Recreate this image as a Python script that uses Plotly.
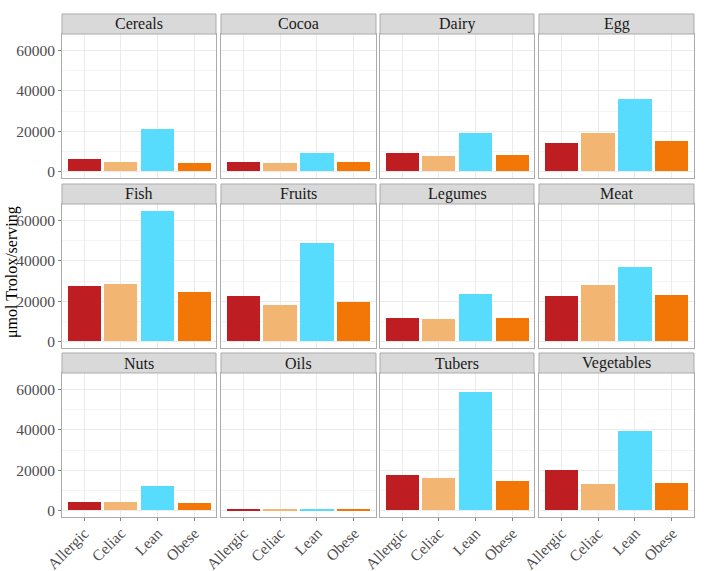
import plotly.graph_objects as go

groups = ["Allergic", "Celiac", "Lean", "Obese"]
foods = ["Cereals", "Cocoa", "Dairy", "Egg",
         "Fish", "Fruits", "Legumes", "Meat",
         "Nuts", "Oils", "Tubers", "Vegetables"]
values = {
    "Cereals":    [6300, 4800, 21300, 4300],
    "Cocoa":      [4600, 4000, 9400, 4600],
    "Dairy":      [9400, 7600, 19300, 8100],
    "Egg":        [14000, 19300, 36000, 14900],
    "Fish":       [27400, 28500, 65000, 24600],
    "Fruits":     [22600, 18200, 48800, 19500],
    "Legumes":    [11800, 11000, 23400, 11800],
    "Meat":       [22600, 28000, 37000, 23100],
    "Nuts":       [4000, 4100, 11900, 3500],
    "Oils":       [800, 450, 700, 550],
    "Tubers":     [17700, 16200, 58700, 14700],
    "Vegetables": [20200, 13000, 39700, 13500],
}
colors = ["#BE1E22", "#F2B572", "#58DCFE", "#F37707"]
y_ticks = [0, 20000, 40000, 60000]
y_ticktext = ["0", "20000", "40000", "60000"]
y_title = "μmol Trolox/serving"

W, H = 708, 571
col_px = [(62, 216), (221, 376), (380, 534), (539, 694)]
row_px = [(34, 178), (204, 348), (373, 517)]
strip_h = 20

FONT = "Liberation Serif, Times New Roman, serif"
fig = go.Figure()
ymax = max(max(v) for v in values.values())
yrange = [-0.05 * ymax, 1.05 * ymax]

shapes = []
annotations = []
for i, food in enumerate(foods):
    r, c = divmod(i, 4)
    n = i + 1
    xa = "x" if n == 1 else f"x{n}"
    ya = "y" if n == 1 else f"y{n}"
    fig.add_trace(go.Bar(x=groups, y=values[food], marker=dict(color=colors, line=dict(width=0)),
                         width=0.9, xaxis=xa, yaxis=ya, showlegend=False, hoverinfo="x+y"))
    x0, x1 = col_px[c]
    y0, y1 = row_px[r]
    xdom = [x0 / W, x1 / W]
    ydom = [1 - y1 / H, 1 - y0 / H]
    xkey = "xaxis" if n == 1 else f"xaxis{n}"
    ykey = "yaxis" if n == 1 else f"yaxis{n}"
    fig.layout[xkey] = dict(
        domain=xdom, anchor=ya, range=[-0.6, 3.6], type="category",
        categoryorder="array", categoryarray=groups, automargin=False,
        showgrid=True, gridcolor="#EBEBEB", gridwidth=1,
        showline=True, mirror=True, linecolor="#ABABAB", linewidth=1,
        ticks="outside" if r == 2 else "", ticklen=3, tickcolor="#7F7F7F",
        showticklabels=False, zeroline=False,
    )
    fig.layout[ykey] = dict(
        domain=ydom, anchor=xa, range=yrange, tickvals=y_ticks, ticktext=y_ticktext,
        automargin=False,
        showgrid=True, gridcolor="#EBEBEB", gridwidth=1,
        minor=dict(dtick=10000, tick0=0, showgrid=True, gridcolor="#F4F4F4", gridwidth=0.6),
        showline=True, mirror=True, linecolor="#ABABAB", linewidth=1,
        ticks="outside" if c == 0 else "", ticklen=3, tickcolor="#7F7F7F",
        showticklabels=(c == 0), zeroline=False,
        tickfont=dict(family=FONT, size=15.5, color="#4D4D4D"),
    )
    # strip
    shapes.append(dict(type="rect", xref="paper", yref="paper",
                       x0=x0 / W, x1=x1 / W, y0=1 - y0 / H, y1=1 - (y0 - strip_h) / H,
                       fillcolor="#D9D9D9", line=dict(color="#ABABAB", width=1), layer="above"))
    annotations.append(dict(text=food, xref="paper", yref="paper",
                            x=(x0 + x1) / 2 / W, y=1 - (y0 - strip_h / 2) / H,
                            showarrow=False, xanchor="center", yanchor="middle",
                            font=dict(family=FONT, size=16, color="#1A1A1A")))
    # rotated category labels under bottom row
    if r == 2:
        for g in groups:
            annotations.append(dict(text=g, xref=xa, yref="paper", x=g, y=1 - (y1 + 5) / H,
                                    xshift=11, showarrow=False, textangle=-45,
                                    xanchor="right", yanchor="top",
                                    font=dict(family=FONT, size=15.5, color="#4D4D4D")))

annotations.append(dict(text=y_title, xref="paper", yref="paper", x=12 / W, y=1 - 272 / H,
                        textangle=-90, showarrow=False, xanchor="center", yanchor="middle",
                        font=dict(family=FONT, size=16, color="#000000")))

fig.update_layout(width=W, height=H, margin=dict(l=0, r=0, t=0, b=0, autoexpand=False),
                  plot_bgcolor="white", paper_bgcolor="white",
                  shapes=shapes, annotations=annotations, bargap=0)
fig.write_html("out.html", config={"displayModeBar": False},
               post_script="document.body.style.margin='0';document.body.style.overflow='hidden';")
